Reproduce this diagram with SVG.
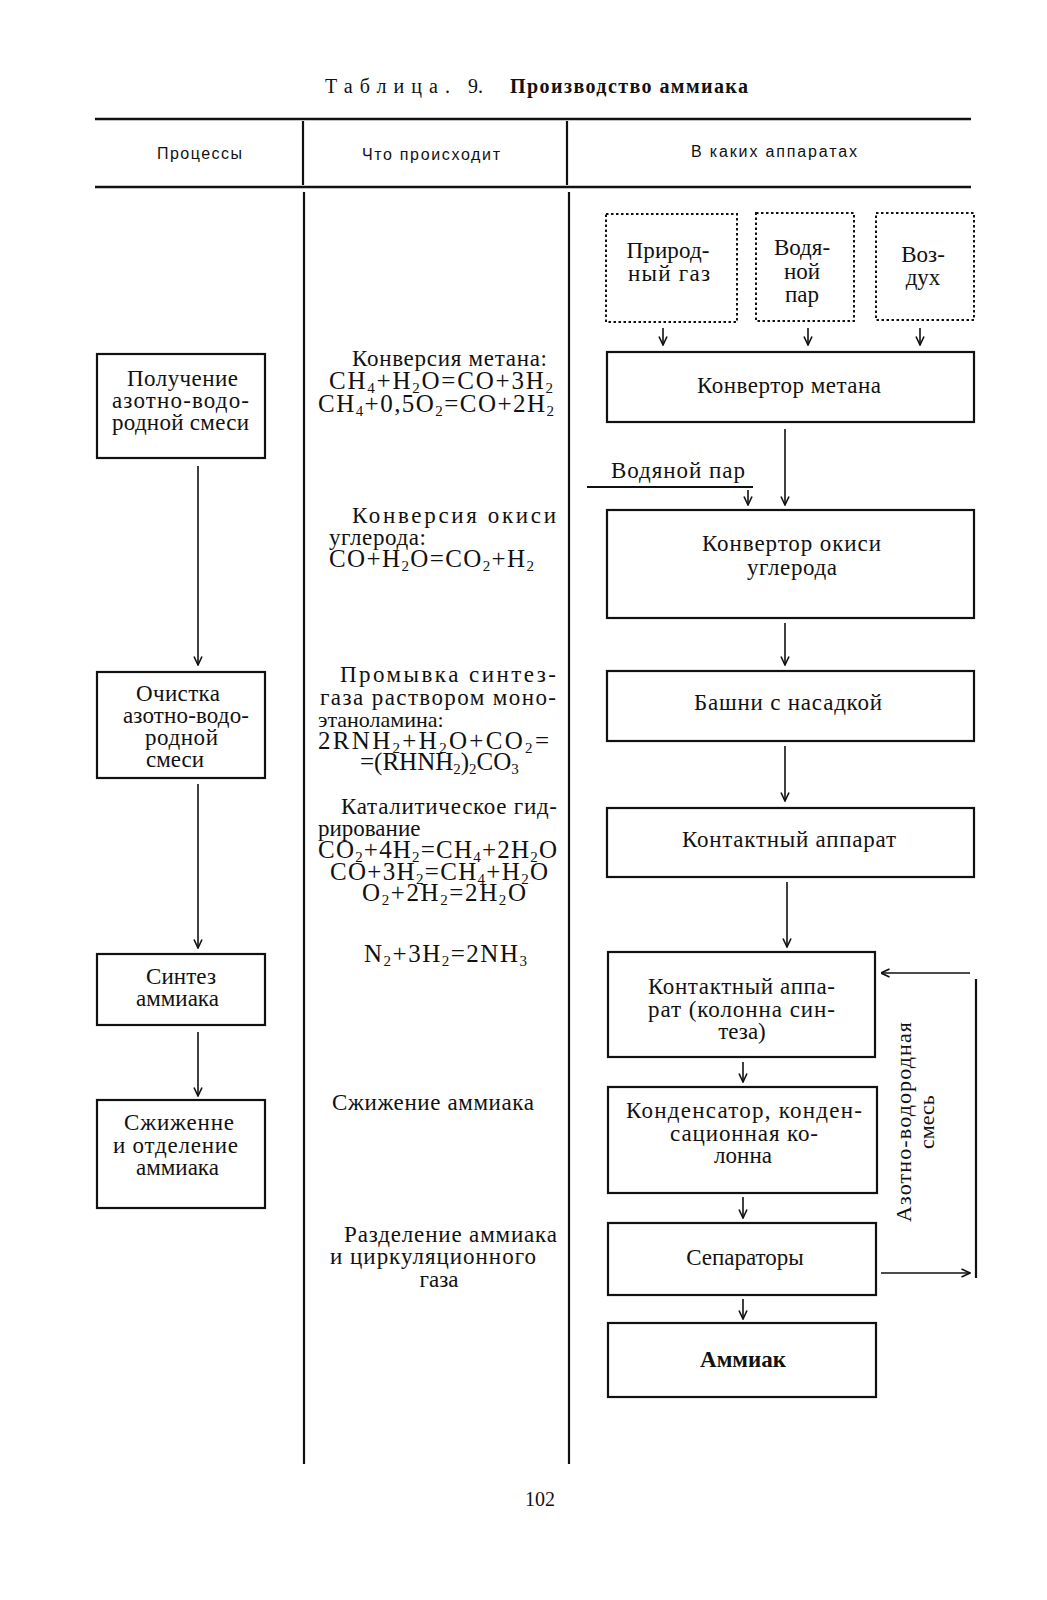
<svg xmlns="http://www.w3.org/2000/svg" width="1047" height="1600" viewBox="0 0 1047 1600">
<defs>
<marker id="ah" viewBox="0 0 10 10" refX="9.5" refY="5" markerWidth="10" markerHeight="10" markerUnits="userSpaceOnUse" orient="auto">
<path d="M1,1 L9.5,5 L1,9" fill="none" stroke="#111" stroke-width="1.6"/>
</marker>
</defs>
<style>
text{font-family:"Liberation Serif","DejaVu Serif",serif;fill:#111;font-size:23px}
.hd{font-family:"Liberation Sans","DejaVu Sans",sans-serif;font-size:16px}
.f{font-size:25px}
.s{font-size:15px}
.c{text-anchor:middle}
.b{font-weight:bold}
.ln{stroke:#111;stroke-width:2.2;fill:none}
.bx{stroke:#111;stroke-width:2.2;fill:none}
.dt{stroke:#111;stroke-width:2;fill:none;stroke-dasharray:2.5 2.5}
.ar{stroke:#111;stroke-width:1.6;fill:none;marker-end:url(#ah)}
</style>
<rect width="1047" height="1600" fill="#fff"/>

<g id="title">
<text x="325" y="93" style="font-size:20px" textLength="125" lengthAdjust="spacing">Таблица.</text>
<text x="468" y="93" style="font-size:20px">9.</text>
<text x="510" y="93" class="b" style="font-size:20px" textLength="238" lengthAdjust="spacing">Производство аммиака</text>
</g>

<g id="table">
<line class="ln" x1="95" y1="119" x2="971" y2="119" style="stroke-width:2.5"/>
<line class="ln" x1="95" y1="187" x2="971" y2="187" style="stroke-width:2.5"/>
<line class="ln" x1="303" y1="121" x2="303" y2="185"/>
<line class="ln" x1="567" y1="121" x2="567" y2="185"/>
<line class="ln" x1="304" y1="192" x2="304" y2="1464"/>
<line class="ln" x1="569" y1="192" x2="569" y2="1464"/>
<text class="hd" x="157" y="159" textLength="85" lengthAdjust="spacing">Процессы</text>
<text class="hd" x="362" y="160" textLength="138" lengthAdjust="spacing">Что происходит</text>
<text class="hd" x="691" y="157" textLength="166" lengthAdjust="spacing">В каких аппаратах</text>
</g>

<g id="p1">
<rect class="bx" x="97" y="354" width="168" height="104"/>
<text x="127" y="386" textLength="111" lengthAdjust="spacing">Получение</text>
<text x="112" y="408" textLength="137" lengthAdjust="spacing">азотно-водо-</text>
<text x="112" y="430" textLength="137" lengthAdjust="spacing">родной смеси</text>
</g>
<g id="p2">
<rect class="bx" x="97" y="672" width="168" height="106"/>
<text x="136" y="701" textLength="84" lengthAdjust="spacing">Очистка</text>
<text x="123" y="723" textLength="126" lengthAdjust="spacing">азотно-водо-</text>
<text x="145" y="745" textLength="73" lengthAdjust="spacing">родной</text>
<text x="146" y="767" textLength="58" lengthAdjust="spacing">смеси</text>
</g>
<g id="p3">
<rect class="bx" x="97" y="954" width="168" height="71"/>
<text x="146" y="984" textLength="70" lengthAdjust="spacing">Синтез</text>
<text x="136" y="1006">аммиака</text>
</g>
<g id="p4">
<rect class="bx" x="97" y="1100" width="168" height="108"/>
<text x="124" y="1130" textLength="110" lengthAdjust="spacing">Сжиженне</text>
<text x="113" y="1153" textLength="125" lengthAdjust="spacing">и отделение</text>
<text x="136" y="1175">аммиака</text>
</g>

<g id="m1">
<text x="352" y="366" textLength="195" lengthAdjust="spacing">Конверсия метана:</text>
<text class="f" x="329" y="389" textLength="224" lengthAdjust="spacing">CH<tspan class="s" dy="4">4</tspan><tspan dy="-4">+H</tspan><tspan class="s" dy="4">2</tspan><tspan dy="-4">O=CO+3H</tspan><tspan class="s" dy="4">2</tspan></text>
<text class="f" x="318" y="412" textLength="236" lengthAdjust="spacing">CH<tspan class="s" dy="4">4</tspan><tspan dy="-4">+0,5O</tspan><tspan class="s" dy="4">2</tspan><tspan dy="-4">=CO+2H</tspan><tspan class="s" dy="4">2</tspan></text>
</g>
<g id="m2">
<text x="352" y="523" textLength="204" lengthAdjust="spacing">Конверсия   окиси</text>
<text x="329" y="545" textLength="97" lengthAdjust="spacing">углерода:</text>
<text class="f" x="329" y="567" textLength="205" lengthAdjust="spacing">CO+H<tspan class="s" dy="4">2</tspan><tspan dy="-4">O=CO</tspan><tspan class="s" dy="4">2</tspan><tspan dy="-4">+H</tspan><tspan class="s" dy="4">2</tspan></text>
</g>
<g id="m3">
<text x="340" y="682" textLength="216" lengthAdjust="spacing">Промывка   синтез-</text>
<text x="320" y="705" textLength="236" lengthAdjust="spacing">газа  раствором  моно-</text>
<text x="318" y="727" style="font-size:22px">этаноламина:</text>
<text class="f" x="318" y="749" textLength="231" lengthAdjust="spacing">2RNH<tspan class="s" dy="4">2</tspan><tspan dy="-4">+H</tspan><tspan class="s" dy="4">2</tspan><tspan dy="-4">O+CO</tspan><tspan class="s" dy="4">2</tspan><tspan dy="-4">=</tspan></text>
<text class="f" x="360" y="770">=(RHNH<tspan class="s" dy="4">2</tspan><tspan dy="-4">)</tspan><tspan class="s" dy="4">2</tspan><tspan dy="-4">CO</tspan><tspan class="s" dy="4">3</tspan></text>
</g>
<g id="m4">
<text x="341" y="814" textLength="216" lengthAdjust="spacing">Каталитическое гид-</text>
<text x="318" y="836">рирование</text>
<text class="f" x="318" y="858" textLength="239" lengthAdjust="spacing">CO<tspan class="s" dy="4">2</tspan><tspan dy="-4">+4H</tspan><tspan class="s" dy="4">2</tspan><tspan dy="-4">=CH</tspan><tspan class="s" dy="4">4</tspan><tspan dy="-4">+2H</tspan><tspan class="s" dy="4">2</tspan><tspan dy="-4">O</tspan></text>
<text class="f" x="330" y="880" textLength="218" lengthAdjust="spacing">CO+3H<tspan class="s" dy="4">2</tspan><tspan dy="-4">=CH</tspan><tspan class="s" dy="4">4</tspan><tspan dy="-4">+H</tspan><tspan class="s" dy="4">2</tspan><tspan dy="-4">O</tspan></text>
<text class="f" x="362" y="901" textLength="164" lengthAdjust="spacing">O<tspan class="s" dy="4">2</tspan><tspan dy="-4">+2H</tspan><tspan class="s" dy="4">2</tspan><tspan dy="-4">=2H</tspan><tspan class="s" dy="4">2</tspan><tspan dy="-4">O</tspan></text>
</g>
<g id="m5">
<text class="f" x="364" y="962" textLength="163" lengthAdjust="spacing">N<tspan class="s" dy="4">2</tspan><tspan dy="-4">+3H</tspan><tspan class="s" dy="4">2</tspan><tspan dy="-4">=2NH</tspan><tspan class="s" dy="4">3</tspan></text>
</g>
<g id="m6">
<text x="332" y="1110" textLength="202" lengthAdjust="spacing">Сжижение аммиака</text>
</g>
<g id="m7">
<text x="344" y="1242" textLength="213" lengthAdjust="spacing">Разделение  аммиака</text>
<text x="330" y="1264" textLength="206" lengthAdjust="spacing">и циркуляционного</text>
<text class="c" x="439" y="1287">газа</text>
</g>

<g id="d1">
<rect class="dt" x="606" y="214" width="131" height="108"/>
<text class="c" x="668" y="258" textLength="83" lengthAdjust="spacing">Природ-</text>
<text class="c" x="669" y="281" textLength="82" lengthAdjust="spacing">ный  газ</text>
</g>
<g id="d2">
<rect class="dt" x="756" y="213" width="98" height="108"/>
<text class="c" x="802" y="255">Водя-</text>
<text class="c" x="802" y="279">ной</text>
<text class="c" x="802" y="302">пар</text>
</g>
<g id="d3">
<rect class="dt" x="876" y="213" width="98" height="107"/>
<text class="c" x="923" y="262">Воз-</text>
<text class="c" x="923" y="285">дух</text>
</g>

<g id="r1">
<rect class="bx" x="607" y="352" width="367" height="70"/>
<text x="697" y="393" textLength="184" lengthAdjust="spacing">Конвертор метана</text>
</g>
<g id="steam">
<text x="611" y="478" textLength="134" lengthAdjust="spacing">Водяной  пар</text>
</g>
<g id="r2">
<rect class="bx" x="607" y="510" width="367" height="108"/>
<text x="702" y="551" textLength="179" lengthAdjust="spacing">Конвертор  окиси</text>
<text x="747" y="575" textLength="90" lengthAdjust="spacing">углерода</text>
</g>
<g id="r3">
<rect class="bx" x="607" y="671" width="367" height="70"/>
<text x="694" y="710" textLength="188" lengthAdjust="spacing">Башни с насадкой</text>
</g>
<g id="r4">
<rect class="bx" x="607" y="808" width="367" height="69"/>
<text x="682" y="847" textLength="214" lengthAdjust="spacing">Контактный аппарат</text>
</g>
<g id="r5">
<rect class="bx" x="608" y="952" width="267" height="105"/>
<text x="648" y="994" textLength="187" lengthAdjust="spacing">Контактный аппа-</text>
<text x="648" y="1017" textLength="187" lengthAdjust="spacing">рат (колонна син-</text>
<text class="c" x="742" y="1039">теза)</text>
</g>
<g id="r6">
<rect class="bx" x="608" y="1087" width="269" height="106"/>
<text x="626" y="1118" textLength="236" lengthAdjust="spacing">Конденсатор,  конден-</text>
<text x="670" y="1141" textLength="148" lengthAdjust="spacing">сационная  ко-</text>
<text class="c" x="743" y="1163">лонна</text>
</g>
<g id="r7">
<rect class="bx" x="608" y="1223" width="268" height="72"/>
<text class="c" x="745" y="1265">Сепараторы</text>
</g>
<g id="r8">
<rect class="bx" x="608" y="1323" width="268" height="74"/>
<text class="c b" x="743" y="1367">Аммиак</text>
</g>
<g id="recycle-label">
<text class="c" style="font-size:22px" transform="translate(911,1122) rotate(-90)" textLength="200" lengthAdjust="spacing">Азотно-водородная</text>
<text class="c" style="font-size:22px" transform="translate(934,1122) rotate(-90)">смесь</text>
</g>

<g id="connectors">
<line class="ar" x1="198" y1="466" x2="198" y2="665"/>
<line class="ar" x1="198" y1="784" x2="198" y2="948"/>
<line class="ar" x1="198" y1="1032" x2="198" y2="1096"/>
<line class="ar" x1="663" y1="328" x2="663" y2="345"/>
<line class="ar" x1="808" y1="328" x2="808" y2="345"/>
<line class="ar" x1="920" y1="328" x2="920" y2="345"/>
<line class="ar" x1="785" y1="429" x2="785" y2="505"/>
<line class="ln" x1="587" y1="487" x2="753" y2="487" style="stroke-width:1.8"/>
<line class="ar" x1="748" y1="490" x2="748" y2="505"/>
<line class="ar" x1="785" y1="623" x2="785" y2="665"/>
<line class="ar" x1="785" y1="746" x2="785" y2="801"/>
<line class="ar" x1="787" y1="882" x2="787" y2="947"/>
<line class="ar" x1="743" y1="1062" x2="743" y2="1082"/>
<line class="ar" x1="743" y1="1197" x2="743" y2="1218"/>
<line class="ar" x1="743" y1="1299" x2="743" y2="1319"/>
<line class="ar" x1="970" y1="973" x2="881" y2="973"/>
<line class="ln" x1="976" y1="979" x2="976" y2="1278"/>
<line class="ar" x1="881" y1="1273" x2="970" y2="1273"/>
</g>

<g id="page">
<text class="c" x="540" y="1506" style="font-size:20px">102</text>
</g>
</svg>
